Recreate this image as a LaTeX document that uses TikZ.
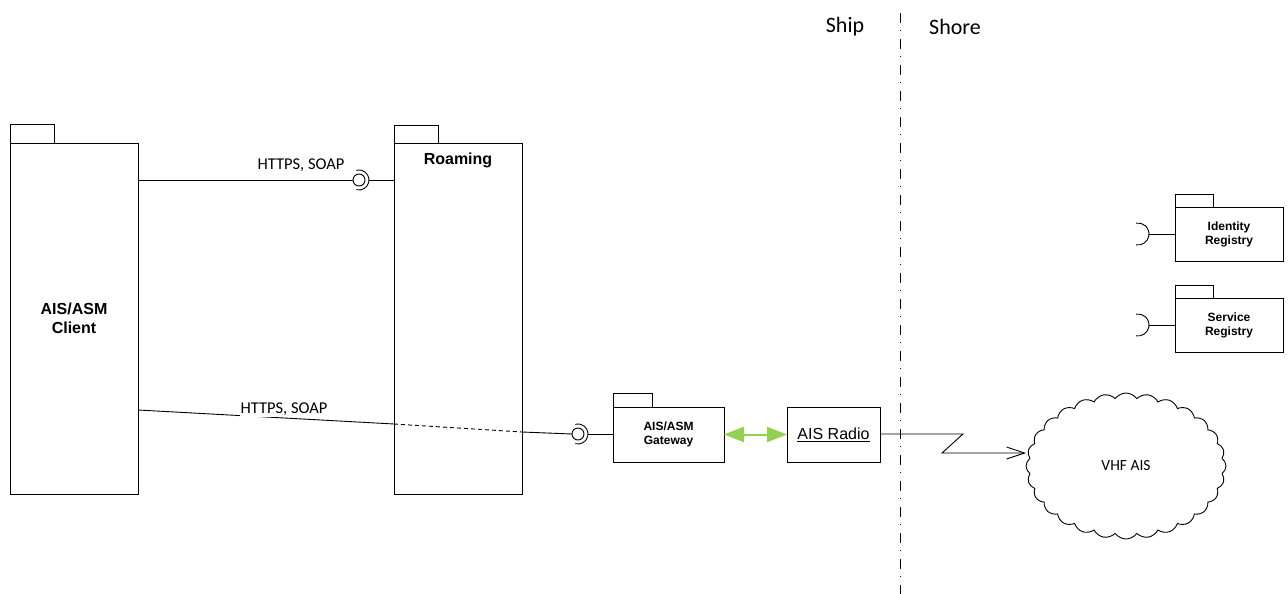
\documentclass[tikz,border=0pt]{standalone}
\usepackage{fontspec}
\setmainfont{Liberation Sans}
\newfontfamily\calib{Carlito}
\usetikzlibrary{arrows.meta,shapes.symbols}
\definecolor{agreen}{HTML}{92D050}
\begin{document}
\begin{tikzpicture}[x=1pt,y=-1pt,line width=0.9pt,
  pkg/.style={draw,fill=white,rectangle,inner sep=0pt,outer sep=0pt},
  bigb/.style={font=\bfseries\fontsize{16}{19}\selectfont,align=center,inner sep=0pt},
  smallb/.style={font=\bfseries\fontsize{12}{14}\selectfont,align=center,inner sep=0pt},
  lbl/.style={font=\calib\fontsize{16.5}{18}\selectfont,inner sep=1pt},
  ball/.style={draw,circle,minimum size=12pt,inner sep=0pt,outer sep=0pt,fill=white},
  dashdot/.style={line width=1pt,dash pattern=on 10pt off 7pt on 1pt off 8pt}]
\useasboundingbox (0,0) rectangle (1288,594);

% divider
\coordinate (dtop) at (900,13);
\coordinate (dbot) at (900,594);
\draw[dashdot] (dtop) -- (dbot);
\node[font=\calib\fontsize{22}{26}\selectfont] (ship) at (845,27) {Ship};
\node[font=\calib\fontsize{22}{26}\selectfont] (shore) at (955,27) {Shore};

% client
\node[pkg,minimum width=128pt,minimum height=351pt] (client) at (74,318.5) {};
\draw (client.north west) rectangle ++(44,-19);
\node[bigb] (clienttxt) at (client) {AIS/ASM\\Client};

% roaming
\node[pkg,minimum width=128pt,minimum height=351pt] (roam) at (458,318.5) {};
\draw (roam.north west) rectangle ++(44,-18);
\node[bigb] (roamtxt) at (458,160) {Roaming};

% second connector (passes behind Roaming box, shown dashed)
\coordinate (p1) at (138,410);
\coordinate (p2) at (394,424);
\coordinate (p3) at (522,432);
\node[ball] (lol2) at (578,434) {};
\draw (p1) -- (p2);
\draw[dash pattern=on 4pt off 3pt] (p2) -- (p3);
\draw (p3) -- (lol2.west);
\node[lbl,fill=white,text height=10.5pt,text depth=2.5pt] (h2) at (284,409.5) {HTTPS, SOAP};

% first connector
\node[ball] (lol1) at (359,180) {};
\draw (client.north east |- lol1) -- (lol1.west);
\draw ([shift={(105:10)}]lol1.center) arc[start angle=105,end angle=-105,radius=10];
\draw ([xshift=10pt]lol1.center) -- (roam.west |- lol1);
\node[lbl] (h1) at (301,165) {HTTPS, SOAP};

% gateway
\node[pkg,minimum width=111pt,minimum height=55pt] (gw) at (668.5,434.5) {};
\draw (gw.north west) rectangle ++(39,-14);
\node[smallb] (gwtxt) at (668.5,434.5) {AIS/ASM\\Gateway};
\draw ([shift={(105:10)}]lol2.center) arc[start angle=105,end angle=-105,radius=10];
\draw ([xshift=10pt]lol2.center) -- (gw.west |- lol2);

% radio
\node[pkg,minimum width=93pt,minimum height=55pt] (radio) at (833.5,434.5) {};
\node[font=\fontsize{16}{19}\selectfont,inner sep=0pt] (radiotxt) at (radio) {\underline{AIS Radio}};
\draw[agreen,line width=2pt,{Triangle[length=20pt,width=15pt]}-{Triangle[length=20pt,width=15pt]}] (gw.east) -- (radio.west);

% cloud
\node[cloud,draw,cloud puffs=28,cloud puff arc=110,aspect=1.4,minimum width=200pt,minimum height=146pt,inner sep=0pt,font=\calib\fontsize{15.5}{17}\selectfont] (vhf) at (1126,466) {VHF AIS};
\coordinate (z1) at (963,434);
\coordinate (z2) at (942,453);
\coordinate (vin) at (1026,453);
\draw[-{Straight Barb[length=18pt,width=12pt]}] (radio.east |- z1) -- (z1) -- (z2) -- (vin);

% registries
\node[pkg,minimum width=108pt,minimum height=54pt] (ident) at (1229,234) {};
\draw (ident.north west) rectangle ++(38,-13);
\node[smallb] (identtxt) at (ident) {Identity\\Registry};
\coordinate (s1) at (1138,234);
\draw ([shift={(100:11)}]s1) arc[start angle=100,end angle=-100,radius=11];
\draw ([xshift=11pt]s1) -- (ident.west);

\node[pkg,minimum width=108pt,minimum height=54pt] (serv) at (1229,325) {};
\draw (serv.north west) rectangle ++(38,-13);
\node[smallb] (servtxt) at (serv) {Service\\Registry};
\coordinate (s2) at (1138,325);
\draw ([shift={(100:11)}]s2) arc[start angle=100,end angle=-100,radius=11];
\draw ([xshift=11pt]s2) -- (serv.west);
\end{tikzpicture}
\end{document}
